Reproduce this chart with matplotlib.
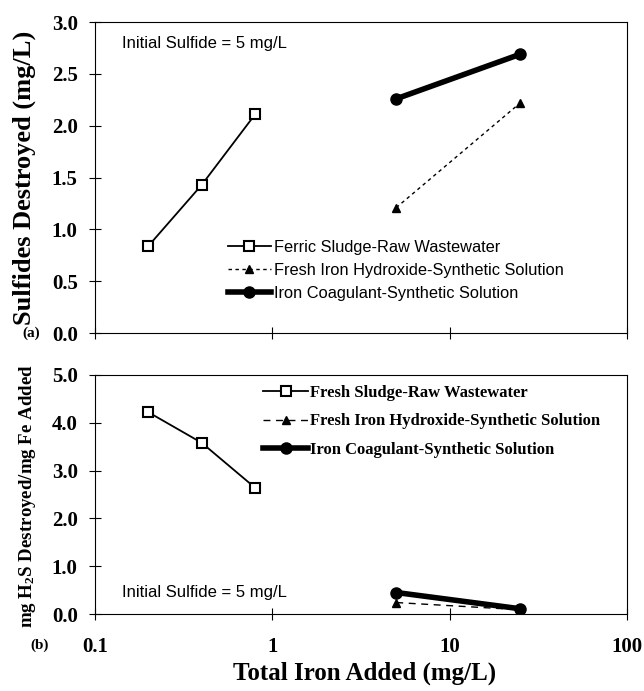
import matplotlib
matplotlib.use("Agg")
import matplotlib.pyplot as plt
from matplotlib.ticker import NullLocator

# data
x_sludge = [0.2, 0.4, 0.8]
x_synth = [5, 25]

sulf_sludge = [0.84, 1.43, 2.11]
sulf_hydrox = [1.21, 2.22]
sulf_coag = [2.26, 2.69]

ratio_sludge = [4.22, 3.58, 2.64]
ratio_hydrox = [0.24, 0.09]
ratio_coag = [0.45, 0.11]

x_ticks = [0.1, 1, 10, 100]
x_ticklabels = ["0.1", "1", "10", "100"]

SERIF = "Liberation Serif"
SANS = "Liberation Sans"

plt.rcParams["mathtext.fontset"] = "custom"
plt.rcParams["mathtext.rm"] = "Liberation Serif:bold"
plt.rcParams["mathtext.it"] = "Liberation Serif:bold"

fig = plt.figure(figsize=(6.44, 6.91), dpi=100)
ax1 = fig.add_axes([0.1475, 0.518, 0.826, 0.450])
ax2 = fig.add_axes([0.1475, 0.1114, 0.826, 0.346])

mk = dict(color="black", markeredgecolor="black")

# (a) sulfides destroyed
ax1.plot(x_sludge, sulf_sludge, "-", marker="s", ms=7, mfc="white", mew=1.5, lw=1.3,
         label="Ferric Sludge-Raw Wastewater", **mk)
ax1.plot(x_synth, sulf_hydrox, marker="^", ms=6, mfc="black", lw=1.0, linestyle=(0, (2.5, 2.5)),
         label="Fresh Iron Hydroxide-Synthetic Solution", **mk)
ax1.plot(x_synth, sulf_coag, "-", marker="o", ms=8, mfc="black", lw=4,
         label="Iron Coagulant-Synthetic Solution", **mk)

# (b) mg H2S per mg Fe
ax2.plot(x_sludge, ratio_sludge, "-", marker="s", ms=7, mfc="white", mew=1.5, lw=1.3,
         label="Fresh Sludge-Raw Wastewater", **mk)
ax2.plot(x_synth, ratio_hydrox, marker="^", ms=6, mfc="black", lw=1.0, linestyle=(0, (5, 4)),
         label="Fresh Iron Hydroxide-Synthetic Solution", **mk)
ax2.plot(x_synth, ratio_coag, "-", marker="o", ms=8, mfc="black", lw=4,
         label="Iron Coagulant-Synthetic Solution", **mk)

for ax in (ax1, ax2):
    ax.set_xscale("log")
    ax.set_xlim(0.1, 100)
    ax.set_xticks(x_ticks)
    ax.xaxis.set_minor_locator(NullLocator())
    ax.tick_params(axis="both", direction="inout", length=9, width=0.8,
                   labelsize=15, pad=8)
    for sp in ax.spines.values():
        sp.set_linewidth(0.8)

ax1.set_ylim(0, 3.0)
ax1.set_yticks([0, 0.5, 1.0, 1.5, 2.0, 2.5, 3.0])
ax1.set_yticklabels(["0.0", "0.5", "1.0", "1.5", "2.0", "2.5", "3.0"],
                    fontfamily=SERIF, fontweight="bold")
ax1.set_xticklabels([])
ax1.set_ylabel("Sulfides Destroyed (mg/L)", fontfamily=SERIF, fontweight="bold", fontsize=19)
ax1.yaxis.set_label_coords(-0.11, 0.5)

ax2.set_ylim(0, 5.0)
ax2.set_yticks([0, 1, 2, 3, 4, 5])
ax2.set_yticklabels(["0.0", "1.0", "2.0", "3.0", "4.0", "5.0"],
                    fontfamily=SERIF, fontweight="bold")
ax2.set_xticklabels(x_ticklabels, fontfamily=SERIF, fontweight="bold")
ax2.tick_params(axis="x", pad=12)
ax2.set_ylabel("mg H$_2$S Destroyed/mg Fe Added", fontfamily=SERIF, fontweight="bold", fontsize=13.6)
ax2.yaxis.set_label_coords(-0.108, 0.494)
ax2.set_xlabel("Total Iron Added (mg/L)", fontfamily=SERIF, fontweight="bold", fontsize=18)
ax2.xaxis.set_label_coords(0.506, -0.2)

# annotations
ax1.text(0.05, 0.93, "Initial Sulfide = 5 mg/L", transform=ax1.transAxes,
         fontfamily=SANS, fontsize=12, va="center")
ax2.text(0.05, 0.09, "Initial Sulfide = 5 mg/L", transform=ax2.transAxes,
         fontfamily=SANS, fontsize=12, va="center")
fig.text(22 / 644, 1 - 333 / 691, "(a)", fontfamily=SERIF, fontweight="bold", fontsize=11, va="center")
fig.text(30 / 644, 1 - 645 / 691, "(b)", fontfamily=SERIF, fontweight="bold", fontsize=11, va="center")

ax1.legend(loc="upper left", bbox_to_anchor=(0.25, 0.30), frameon=False, borderpad=0,
           borderaxespad=0, handlelength=2.6, handletextpad=0.2, labelspacing=0.5,
           prop={"family": SANS, "size": 11.8})
ax2.legend(loc="upper left", bbox_to_anchor=(0.316, 0.958), frameon=False, borderpad=0,
           borderaxespad=0, handlelength=2.7, handletextpad=0.1, labelspacing=0.75,
           prop={"family": SERIF, "weight": "bold", "size": 12})

fig.savefig("out.png", dpi=100)
